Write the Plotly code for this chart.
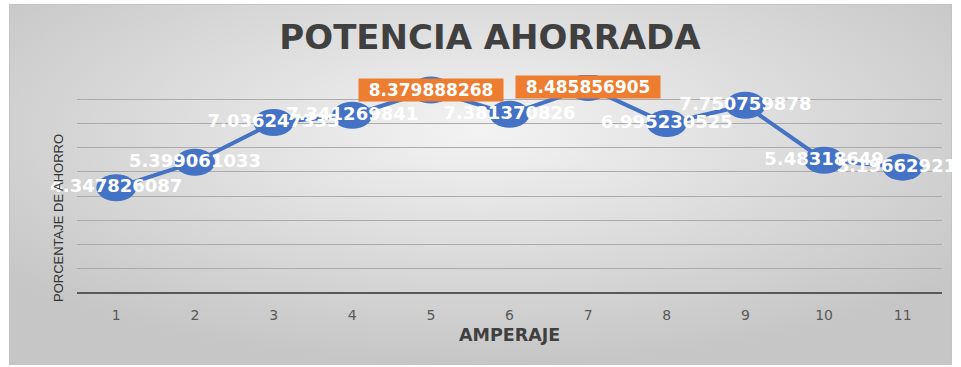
import base64
import plotly.graph_objects as go

# ---- data ----
amperaje = [1, 2, 3, 4, 5, 6, 7, 8, 9, 10, 11]
ahorro = [4.347826087, 5.399061033, 7.036247335, 7.341269841, 8.379888268,
          7.381370826, 8.485856905, 6.995230525, 7.750759878, 5.48318649,
          5.196629213]
highlighted = [5, 7]
tick_labels = [str(a) for a in amperaje]
title_text = "POTENCIA AHORRADA"
x_title = "AMPERAJE"
y_title = "PORCENTAJE DE AHORRO"

BLUE = "#4472C4"
ORANGE = "#ED7D31"

W, H = 961, 367
L, R, T, B = 77, 19, 75, 74
pw, ph = W - L - R, H - T - B

def px_to_paper_x(px):
    return (px - L) / pw

def py_to_paper_y(py):
    return (H - B - py) / ph

labels = [("" if a in highlighted else str(v)) for a, v in zip(amperaje, ahorro)]

fig = go.Figure()
fig.add_trace(go.Scatter(
    x=amperaje, y=ahorro, mode="lines+text",
    line=dict(color=BLUE, width=4),
    text=labels, textposition="middle center",
    textfont=dict(family="DejaVu Sans", size=18, color="white", weight="bold"),
    cliponaxis=False, hoverinfo="skip", showlegend=False,
))

shapes = []
for a, v in zip(amperaje, ahorro):
    shapes.append(dict(
        type="circle", xref="x", yref="y", xsizemode="pixel", ysizemode="pixel",
        xanchor=a, yanchor=v, x0=-20, x1=20, y0=-13.5, y1=13.5,
        fillcolor=BLUE, line=dict(width=0), layer="between",
    ))

annotations = []
for a, v in zip(amperaje, ahorro):
    if a in highlighted:
        annotations.append(dict(
            x=a, y=v, xref="x", yref="y", text=str(v), showarrow=False,
            font=dict(family="DejaVu Sans", size=17, color="white", weight="bold"),
            bgcolor=ORANGE, width=144, height=22, borderpad=0,
            xanchor="center", yanchor="middle",
        ))

annotations.append(dict(
    x=px_to_paper_x(58), y=py_to_paper_y(218), xref="paper", yref="paper",
    text=y_title, textangle=-90, showarrow=False,
    font=dict(family="Liberation Sans Narrow, Liberation Sans", size=13, color="#333333"),
    xanchor="center", yanchor="middle",
))
annotations.append(dict(
    x=px_to_paper_x(509), y=py_to_paper_y(335), xref="paper", yref="paper",
    text=x_title, showarrow=False,
    font=dict(family="DejaVu Sans", size=17.5, color="#404040", weight="bold"),
    xanchor="center", yanchor="middle",
))

svg = ('<svg xmlns="http://www.w3.org/2000/svg" width="943" height="361" '
       'viewBox="0 0 943 361" preserveAspectRatio="none"><defs>'
       '<radialGradient id="g" cx="0.5" cy="0.35" r="0.65">'
       '<stop offset="0" stop-color="#f3f3f3"/><stop offset="1" stop-color="#c6c6c6"/>'
       '</radialGradient></defs>'
       '<rect x="0.5" y="0.5" width="942" height="360" fill="url(#g)" stroke="#c4c4c4"/></svg>')
src = "data:image/svg+xml;base64," + base64.b64encode(svg.encode()).decode()

fig.update_layout(
    width=W, height=H,
    margin=dict(l=L, r=R, t=T, b=B),
    paper_bgcolor="white", plot_bgcolor="rgba(0,0,0,0)",
    title=dict(text=title_text, x=px_to_paper_x(490), xref="paper", xanchor="center",
               y=1 - 37 / H, yanchor="middle",
               font=dict(family="DejaVu Sans", size=34, color="#404040", weight="bold")),
    images=[dict(source=src, xref="paper", yref="paper",
                 x=px_to_paper_x(9), y=py_to_paper_y(4),
                 sizex=(952 - 9) / pw, sizey=(365 - 4) / ph,
                 xanchor="left", yanchor="top", sizing="stretch", layer="below")],
    shapes=shapes,
    annotations=annotations,
    xaxis=dict(range=[0.5, 11.5], tickvals=amperaje, ticktext=tick_labels,
               showgrid=False, zeroline=False, showline=False, ticks="",
               ticklabelstandoff=12,
               tickfont=dict(family="DejaVu Sans", size=14, color="#595959")),
    yaxis=dict(range=[0, 9], dtick=1, showticklabels=False, ticks="",
               showgrid=True, gridcolor="#ababab", gridwidth=1,
               zeroline=True, zerolinecolor="#595959", zerolinewidth=2,
               showline=False),
)

fig.write_html("out.html", config={"displayModeBar": False},
               post_script="document.body.style.margin='0';document.body.style.overflow='hidden';")
